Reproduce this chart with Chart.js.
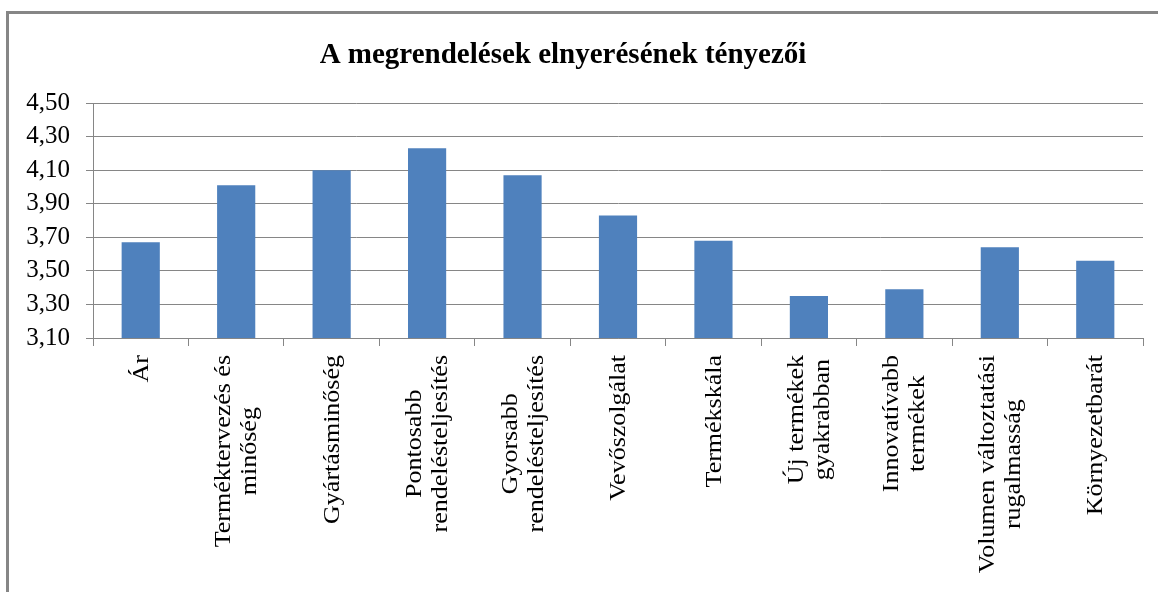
<!DOCTYPE html>
<html>
<head>
<meta charset="utf-8">
<script src="https://cdn.jsdelivr.net/npm/chart.js@4.4.1/dist/chart.umd.min.js"></script>
<style>
  html, body { margin: 0; padding: 0; background: #fff; }
  #wrap { position: relative; width: 1158px; height: 592px; overflow: hidden; }
  #frame { position: absolute; left: 6px; top: 11px; width: 1200px; height: 700px; border: 3px solid #868686; box-sizing: border-box; }
  #chart { position: absolute; left: 0; top: 0; }
</style>
</head>
<body>
<div id="wrap">
  <div id="frame"></div>
  <canvas id="chart" width="1158" height="592" style="width:1158px;height:592px"></canvas>
</div>
<script>
const title = 'A megrendelések elnyerésének tényezői';

const categories = [
    ['Ár'],
    ['Terméktervezés és', 'minőség'],
    ['Gyártásminőség'],
    ['Pontosabb', 'rendelésteljesítés'],
    ['Gyorsabb', 'rendelésteljesítés'],
    ['Vevőszolgálat'],
    ['Termékskála'],
    ['Új termékek', 'gyakrabban'],
    ['Innovatívabb', 'termékek'],
    ['Volumen változtatási', 'rugalmasság'],
    ['Környezetbarát']
];

const values = [3.67, 4.01, 4.10, 4.23, 4.07, 3.83, 3.68, 3.35, 3.39, 3.64, 3.56];

const yMin = 3.1;
const yMax = 4.5;
const yStep = 0.2;

const gray = '#868686';
const serif = '"Liberation Serif", "Times New Roman", serif';

// category labels: rotated, lines centred on each other like the original
const labelPlugin = {
    id: 'rotatedLabels',
    afterDraw(chart) {
        const ctx = chart.ctx;
        const xs = chart.scales.x;
        const lh = 26;
        ctx.save();
        ctx.font = '23px ' + serif;
        ctx.fillStyle = '#000';
        ctx.textAlign = 'center';
        ctx.textBaseline = 'middle';
        categories.forEach((lines, i) => {
            const px = xs.getPixelForTick(i);
            const maxW = Math.max(...lines.map(l => ctx.measureText(l).width));
            const blockH = lines.length * lh;
            ctx.save();
            ctx.translate(px + 1, xs.top + 17);
            ctx.rotate(-Math.PI / 2);
            ctx.scale(1.13, 1);
            lines.forEach((l, j) => {
                ctx.fillText(l, -maxW / 2, -blockH / 2 + (j + 0.5) * lh);
            });
            ctx.restore();
        });

        ctx.font = 'bold 29px ' + serif;
        ctx.textBaseline = 'alphabetic';
        ctx.fillText(title, 563, 63);
        ctx.restore();
    }
};

new Chart(document.getElementById('chart'), {
    type: 'bar',
    data: {
        labels: categories,
        datasets: [{
            data: values,
            backgroundColor: '#4F81BD',
            barPercentage: 0.4,
            categoryPercentage: 1.0
        }]
    },
    options: {
        responsive: false,
        animation: false,
        layout: { padding: { top: 103, right: 15, bottom: 0, left: 0 } },
        plugins: {
            legend: { display: false },
            tooltip: { enabled: false },
            title: { display: false }
        },
        scales: {
            x: {
                grid: { drawOnChartArea: false, drawTicks: true, tickLength: 8, color: gray, lineWidth: 1 },
                border: { color: gray, width: 1 },
                ticks: { display: false },
                afterFit(s) { s.height = 254; }
            },
            y: {
                min: yMin,
                max: yMax,
                ticks: {
                    stepSize: yStep,
                    callback: v => v.toFixed(2).replace('.', ','),
                    font: { family: serif, size: 25 },
                    color: '#000',
                    padding: 16
                },
                grid: { color: gray, lineWidth: 1, tickLength: 7 },
                border: { color: gray, width: 1 },
                afterFit(s) { s.width = 93; }
            }
        }
    },
    plugins: [labelPlugin]
});
</script>
</body>
</html>
